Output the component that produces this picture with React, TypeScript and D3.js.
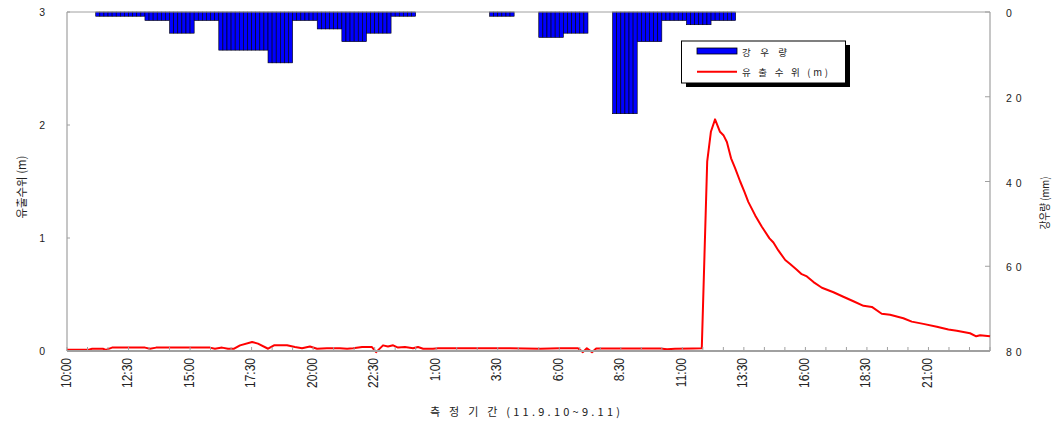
import React from "react";
import * as d3 from "d3";

// ---- data ----
// elapsed hours since 10:00 (11.9.10) and discharge water level (m)
const levelHours = [
  0, 0.85, 1.02, 1.46, 1.58, 1.83, 3.17, 3.37, 3.62, 5.81, 6.01, 6.3, 6.54, 6.79, 7.03, 7.52,
  7.76, 8.17, 8.41, 8.94, 9.26, 9.55, 9.87, 10.16, 10.56, 11.09, 11.38, 11.62, 11.99, 12.39,
  12.56, 12.84, 13.04, 13.25, 13.45, 13.73, 14.06, 14.26, 14.47, 14.87, 15.08, 18.0, 19.22,
  20.03, 20.76, 20.96, 21.12, 21.33, 21.5, 24.1, 24.38, 24.7, 25.43, 25.79, 26.01, 26.16,
  26.33, 26.53, 26.67, 26.81, 26.98, 27.14, 27.35, 27.52, 27.68, 27.96, 28.23, 28.54, 28.7,
  28.9, 29.18, 29.38, 29.65, 29.85, 30.06, 30.33, 30.67, 31.14, 31.54, 31.95, 32.36, 32.7,
  33.1, 33.44, 33.98, 34.32, 34.79, 35.34, 35.81, 36.15, 36.69, 36.94, 37.1, 37.5,
];
const levelValues = [
  0.01, 0.01, 0.02, 0.02, 0.01, 0.03, 0.03, 0.02, 0.03, 0.03, 0.02, 0.03, 0.02, 0.02, 0.05, 0.08,
  0.065, 0.02, 0.05, 0.05, 0.035, 0.025, 0.04, 0.02, 0.025, 0.025, 0.02, 0.025, 0.035, 0.035,
  -0.01, 0.05, 0.04, 0.05, 0.03, 0.035, 0.025, 0.035, 0.02, 0.02, 0.025, 0.025, 0.02,
  0.025, 0.025, -0.01, 0.025, -0.01, 0.023, 0.023, 0.015, 0.02, 0.023, 0.025, 1.675, 1.94,
  2.05, 1.94, 1.91, 1.85, 1.705, 1.62, 1.5, 1.41, 1.32, 1.2, 1.1, 0.997, 0.96,
  0.89, 0.805, 0.77, 0.72, 0.68, 0.66, 0.61, 0.56, 0.52, 0.48, 0.44, 0.4, 0.39,
  0.33, 0.32, 0.29, 0.26, 0.24, 0.215, 0.19, 0.18, 0.157, 0.13, 0.14, 0.13,
];
// hourly rainfall (mm), hour 0 = 10:00–11:00, recorded per 10-minute step
const rainHourly = [
  0, 1, 1, 2, 5, 2, 9, 9, 12, 2, 4, 7, 5, 1, 0, 0, 0, 1, 0, 6, 5, 0, 24, 7, 2, 3, 2,
  0, 0, 0, 0, 0, 0, 0, 0, 0, 0,
];
const stepsPerHour = 6;
const totalHours = 37.5;
const tickStepHours = 50 / 60;
const xTickLabels = [
  "10:00", "12:30", "15:00", "17:30", "20:00", "22:30", "1:00", "3:30", "6:00", "8:30",
  "11:00", "13:30", "16:00", "18:30", "21:00",
];
const levelTicks = [0, 1, 2, 3];
const rainTicks = [0, 20, 40, 60, 80];

const W = 1058;
const H = 423;
const M = { left: 67, right: 990, top: 12, bottom: 351 };

export default function App() {
  const x = d3.scaleLinear().domain([0, totalHours]).range([M.left, M.right]);
  const y = d3.scaleLinear().domain([0, 3]).range([M.bottom, M.top]);
  const yr = d3.scaleLinear().domain([0, 80]).range([M.top, M.bottom]);

  const stepW = x(1 / stepsPerHour) - x(0);
  const rainBars: { t: number; v: number }[] = [];
  rainHourly.forEach((v, h) => {
    if (v <= 0) return;
    for (let k = 0; k < stepsPerHour; k++) {
      rainBars.push({ t: h + (k + 1) / stepsPerHour, v });
    }
  });

  const pts = levelHours.map((t, i) => [t, levelValues[i]] as [number, number]);
  const line = d3
    .line<[number, number]>()
    .x((d) => x(d[0]))
    .y((d) => y(d[1]));

  const nTicks = Math.round(totalHours / tickStepHours);
  const ticks = d3.range(0, nTicks + 1).map((i) => i * tickStepHours);

  const axisColor = "#a0a0a0";
  const latin = "'Liberation Sans', Arial, sans-serif";
  const kr = "'Noto Sans CJK KR', 'Noto Sans', sans-serif";

  return (
    <svg
      width={W}
      height={H}
      style={{ position: "absolute", left: 0, top: 0, background: "#fff" }}
    >
      <rect x={0} y={0} width={W} height={H} fill="#fff" />
      {/* rain bars */}
      {rainBars.map((b, i) => (
        <rect
          key={i}
          x={x(b.t)}
          y={yr(0)}
          width={stepW}
          height={yr(b.v) - yr(0)}
          fill="#0000ff"
          stroke="#000"
          strokeWidth={0.6}
        />
      ))}
      {/* frame */}
      <line x1={M.left} x2={M.right} y1={M.top} y2={M.top} stroke={axisColor} strokeWidth={1} />
      <line x1={M.left} x2={M.left} y1={M.top} y2={M.bottom} stroke={axisColor} strokeWidth={1.2} />
      <line x1={M.right} x2={M.right} y1={M.top} y2={M.bottom} stroke={axisColor} strokeWidth={1.2} />
      {/* water level line */}
      <path d={line(pts) || ""} fill="none" stroke="#ff0000" strokeWidth={2} strokeLinejoin="round" />
      <line x1={M.left} x2={M.right} y1={M.bottom} y2={M.bottom} stroke={axisColor} strokeWidth={2} />
      {/* x ticks */}
      {ticks.map((t, i) => (
        <line key={i} x1={x(t)} x2={x(t)} y1={M.bottom} y2={M.bottom - 4} stroke={axisColor} strokeWidth={1} />
      ))}
      {xTickLabels.map((lab, i) => (
        <text
          key={lab + i}
          transform={`translate(${x(i * 2.5) + 3.5},${M.bottom + 7}) scale(1.25,1) rotate(-90)`}
          textAnchor="end"
          fontFamily={latin}
          fontSize={12}
          fill="#222"
        >
          {lab}
        </text>
      ))}
      {/* left axis */}
      {levelTicks.map((v) => (
        <g key={v}>
          <line x1={M.left} x2={M.left + 3} y1={y(v)} y2={y(v)} stroke={axisColor} />
          <text x={45} y={y(v) + 4} textAnchor="end" fontFamily={latin} fontSize={10.5} fill="#222">
            {v}
          </text>
        </g>
      ))}
      {/* right axis */}
      {rainTicks.map((v) => (
        <g key={v}>
          <line x1={M.right} x2={M.right - 5} y1={yr(v)} y2={yr(v)} stroke={axisColor} />
          <text
            x={1006}
            y={yr(v) + 5}
            fontFamily={latin}
            fontSize={10.5}
            letterSpacing={4}
            fill="#222"
          >
            {v}
          </text>
        </g>
      ))}
      {/* axis titles */}
      <text
        transform="translate(26,187) rotate(-90)"
        textAnchor="middle"
        fontFamily={kr}
        fontSize={11.5}
        textLength={63}
        lengthAdjust="spacingAndGlyphs"
        fill="#222"
      >
        유출수위 (m)
      </text>
      <text
        transform="translate(1049,203) rotate(-90)"
        textAnchor="middle"
        fontFamily={kr}
        fontSize={11}
        textLength={53}
        lengthAdjust="spacingAndGlyphs"
        fill="#222"
      >
        강우량 (mm)
      </text>
      <text
        x={430}
        y={416}
        fontFamily={kr}
        fontSize={11}
        textLength={190}
        lengthAdjust="spacing"
        fill="#222"
      >
        측 정 기 간 (11.9.10~9.11)
      </text>
      {/* legend */}
      <rect x={686} y={45} width={164} height={42} fill="#000" />
      <rect x={681.5} y={41} width={164} height={42} fill="#fff" stroke="#000" strokeWidth={1} />
      <rect x={697} y={48} width={40} height={6} fill="#0000ff" stroke="#000" strokeWidth={0.8} />
      <text x={742} y={55.5} fontFamily={kr} fontSize={9.5} textLength={45} lengthAdjust="spacing" fill="#222">
        강 우 량
      </text>
      <line x1={697} x2={737} y1={71.7} y2={71.7} stroke="#ff0000" strokeWidth={2} />
      <text x={742} y={76} fontFamily={kr} fontSize={9.5} textLength={86} lengthAdjust="spacing" fill="#222">
        유 출 수 위 (m)
      </text>
    </svg>
  );
}
